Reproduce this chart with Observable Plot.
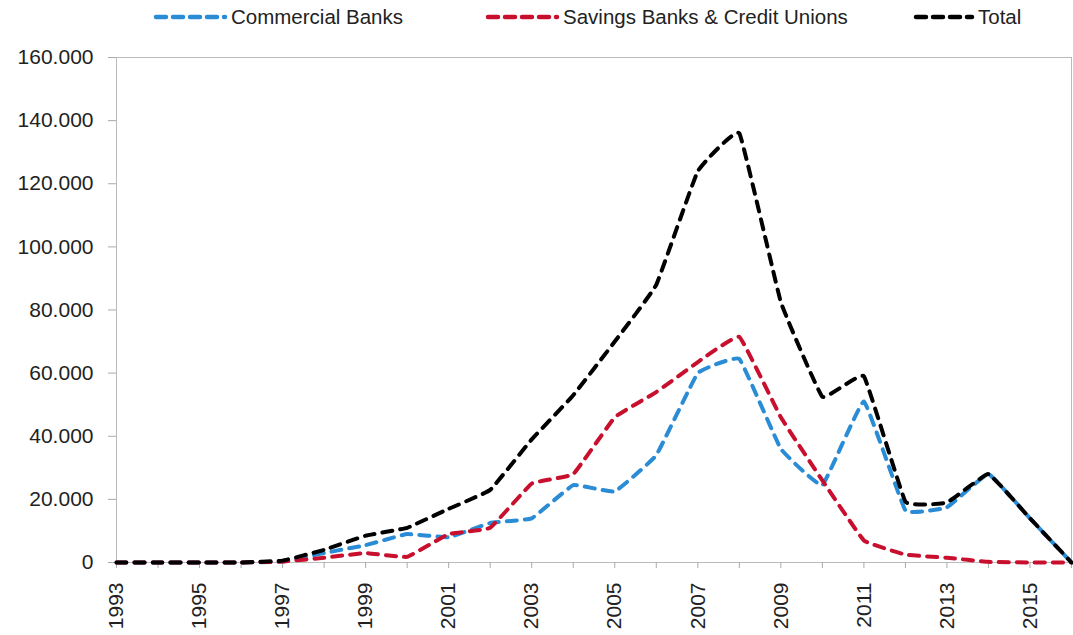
<!DOCTYPE html>
<html>
<head>
<meta charset="utf-8">
<script src="https://cdn.jsdelivr.net/npm/d3@7"></script>
<script src="https://cdn.jsdelivr.net/npm/@observablehq/plot@0.6"></script>
<style>
  html, body { margin: 0; padding: 0; background: #fff; }
  body { width: 1073px; height: 635px; overflow: hidden; font-family: "Liberation Sans", Arial, sans-serif; }
  #legend { position: relative; height: 40px; width: 1073px; }
  .item { position: absolute; top: 0; height: 34px; display: flex; align-items: center; font-size: 20.5px; color: #222; white-space: nowrap; }
  .item svg { margin-right: 3px; }
</style>
</head>
<body>
<div id="legend"></div>
<div id="chart"></div>
<script>
const years = [1993,1994,1995,1996,1997,1998,1999,2000,2001,2002,2003,2004,2005,2006,2007,2008,2009,2010,2011,2012,2013,2014,2015,2016];
const commercialBanks = [0,0,0,0,300,3000,5500,9000,8000,12500,14000,24500,22500,34000,60000,64500,36000,24500,51000,16500,17500,28000,14000,0];
const savingsBanks = [0,0,0,0,300,1500,3000,1800,9000,11000,25000,28000,46000,54000,63500,71500,46000,26000,7000,2500,1500,200,0,0];
const total = [0,0,0,0,600,4000,8500,11000,17000,23000,39000,53000,70000,88000,124000,136000,82500,52500,59000,19300,19000,28000,14000,0];
const seriesNames = ["Commercial Banks", "Savings Banks & Credit Unions", "Total"];
const seriesColors = ["#2b8cd6", "#c8102e", "#000000"];
const yTicks = [0,20000,40000,60000,80000,100000,120000,140000,160000];
const xTickYears = years;

const seriesValues = [commercialBanks, savingsBanks, total];
const data = [];
seriesNames.forEach((name, i) => {
  years.forEach((yr, j) => data.push({series: name, year: yr, value: seriesValues[i][j]}));
});

const de = d3.formatLocale({decimal: ",", thousands: ".", grouping: [3], currency: ["", " €"]});
const fmt = de.format(",");

// Legend
const legendPos = [153, 485, 913];
const legend = document.getElementById("legend");
seriesNames.forEach((name, i) => {
  const div = document.createElement("div");
  div.className = "item";
  div.style.left = legendPos[i] + "px";
  const w = i === 2 ? 62 : 75;
  div.innerHTML = `<svg width="${w}" height="10"><line x1="3" y1="5" x2="${w - 3}" y2="5" stroke="${seriesColors[i]}" stroke-width="4.5" stroke-dasharray="10,7" stroke-linecap="round"/></svg><span>${name}</span>`;
  legend.appendChild(div);
});

const lineMarks = seriesNames.map((name, i) =>
  Plot.line(data.filter(d => d.series === name), {
    x: "year", y: "value",
    stroke: seriesColors[i],
    strokeWidth: 4,
    strokeDasharray: "10,8",
    strokeLinecap: "round",
    strokeLinejoin: "round",
    curve: "cardinal",
    tension: 0.75
  })
);

const chart = Plot.plot({
  width: 1073,
  height: 595,
  marginTop: 17,
  marginBottom: 73,
  marginLeft: 116,
  marginRight: 2,
  style: {fontFamily: "'Liberation Sans', Arial, sans-serif", fontSize: "21px", color: "#222", background: "#fff"},
  x: {domain: [1993, 2016]},
  y: {domain: [0, 160000]},
  marks: [
    Plot.frame({stroke: "#bbb"}),
    Plot.axisY({ticks: yTicks, tickFormat: fmt, tickSize: 8, tickPadding: 15, stroke: "#aaa", fill: "#222", label: null, fontSize: 21}),
    Plot.axisX({ticks: xTickYears, tickFormat: d => (d % 2 === 1 ? String(d) : ""), tickSize: 6, tickPadding: 14, tickRotate: -90, stroke: "#aaa", fill: "#222", label: null, fontSize: 21}),
    ...lineMarks
  ]
});
document.getElementById("chart").appendChild(chart);
</script>
</body>
</html>
